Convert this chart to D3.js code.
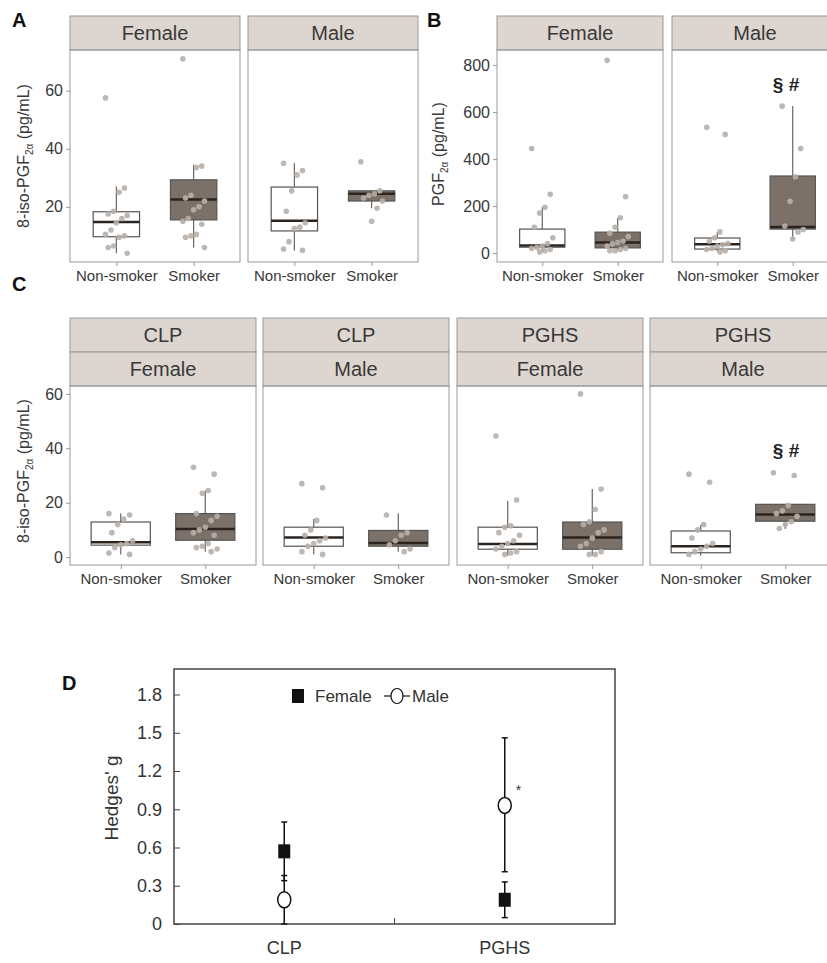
<!DOCTYPE html>
<html>
<head>
<meta charset="utf-8">
<script src="https://cdn.jsdelivr.net/npm/d3@7"></script>
<style>
  body { margin: 0; background: #fff; }
  svg { font-family: "Liberation Sans", Arial, sans-serif; }
</style>
</head>
<body>
<div class="chart"></div>
<script>
// categories
var groups = ["Non-smoker", "Smoker"];
var sexes = ["Female", "Male"];
var sites = ["CLP", "CLP", "PGHS", "PGHS"];
var cSexes = ["Female", "Male", "Female", "Male"];

// box stats: [lower whisker, q1, median, q3, upper whisker]
// order: facet1 non-smoker, facet1 smoker, facet2 non-smoker, ...
var aStats = [
  [4, 9.7, 14.8, 18.3, 27], [6, 15.5, 22.5, 29.3, 34.5],
  [5, 11.7, 15.2, 26.8, 35], [19.5, 22, 24.5, 25.5, 25.5]
];
var aPoints = [
  [57.5, 26.5, 25, 18.5, 17.5, 17, 16, 14.5, 12, 10.5, 10, 9.5, 6.5, 6, 4],
  [71, 34, 33.5, 24, 23, 22, 20, 19, 16, 15, 14, 10.5, 10, 9.5, 6],
  [35, 32.5, 31, 25.5, 18.5, 14.5, 13, 12.5, 8, 5.5, 5],
  [35.5, 25.5, 24.5, 24, 23, 22, 19.5, 15]
];
var aTicks = [20, 40, 60];

var bStats = [
  [5, 25, 32, 102, 196], [10, 22, 45, 89, 149],
  [8, 17, 38, 64, 90], [60, 102, 111, 328, 626]
];
var bPoints = [
  [445, 250, 195, 170, 110, 65, 40, 30, 25, 20, 15, 10, 5],
  [820, 240, 150, 110, 85, 70, 50, 45, 40, 30, 20, 15, 10, 10],
  [535, 505, 90, 65, 50, 40, 35, 30, 20, 15, 10, 5],
  [625, 445, 325, 220, 115, 100, 90, 60]
];
var bTicks = [0, 200, 400, 600, 800];

var cStats = [
  [1, 4.4, 5.5, 12.9, 16], [2, 6.2, 10.3, 16, 24.5],
  [1, 4, 7.2, 11, 14], [2, 4, 5.2, 9.8, 16],
  [0.5, 2.9, 4.8, 11, 20.6], [0.5, 2.9, 7.2, 12.9, 25],
  [0.5, 1.6, 4, 9.6, 11.8], [10.3, 13.2, 15.7, 19.4, 19.4]
];
var cPoints = [
  [16, 15.5, 14, 12, 9, 6, 5, 4.5, 3.5, 1.5, 1],
  [33, 30.5, 24.5, 23.5, 16, 15, 13.5, 11, 10, 9, 8, 5, 4, 3.5, 3, 2],
  [27, 25.5, 13.5, 10, 8, 7, 6, 5, 4, 2, 1],
  [15.5, 9, 8, 6, 4.5, 3, 2],
  [44.5, 21, 11.5, 11, 9, 8, 6, 5, 4, 3, 2, 1.5, 1],
  [60, 25, 17.5, 13, 12, 10, 9, 7, 5, 4, 2, 1, 1],
  [30.5, 27.5, 12, 10, 7, 5, 4, 3, 2, 1],
  [31, 30, 19, 17, 16, 15, 13, 12, 10.5]
];
var cTicks = [0, 20, 40, 60];

// panel D: Hedges' g
var dCats = ["CLP", "PGHS"];
var dFemale = [0.57, 0.19], dFemaleLo = [0.34, 0.05], dFemaleHi = [0.80, 0.33];
var dMale = [0.19, 0.93], dMaleLo = [0.0, 0.41], dMaleHi = [0.38, 1.46];
var dTicks = [0, 0.3, 0.6, 0.9, 1.2, 1.5, 1.8];

var svg = d3.select(".chart").append("svg")
    .attr("width", 827)
    .attr("height", 963);

var txt = "#383838", border = "#999", stripFill = "#ddd5d0", smokeFill = "#7b7169";

function letter(s, x, y) {
  svg.append("text").attr("x", x).attr("y", y).text(s)
    .attr("font-size", 20).attr("font-weight", "bold").attr("fill", "#111");
}

function ylabel(x, y, main) {
  var t = svg.append("text")
    .attr("transform", "translate(" + x + "," + y + ") rotate(-90)")
    .attr("text-anchor", "middle").attr("font-size", 16).attr("fill", txt);
  t.append("tspan").text(main);
  t.append("tspan").text("2α").attr("font-size", 10).attr("dy", 4);
  t.append("tspan").text(" (pg/mL)").attr("dy", -4);
}

// one faceted boxplot panel
function facet(opt) {
  var x = d3.scalePoint().domain(groups).range([opt.x0, opt.x1]).padding(0.6);
  var step = x.step();
  var bw = step * opt.boxW;
  var g = svg.append("g");
  var stripH = 34;

  opt.strips.forEach(function(s, i) {
    var top = opt.top - stripH * (opt.strips.length - i);
    g.append("rect").attr("x", opt.x0).attr("y", top)
      .attr("width", opt.x1 - opt.x0).attr("height", stripH)
      .attr("fill", stripFill).attr("stroke", border);
    g.append("text").attr("x", (opt.x0 + opt.x1) / 2).attr("y", top + stripH / 2 + 7)
      .attr("text-anchor", "middle").attr("font-size", 20).attr("fill", txt).text(s);
  });

  g.append("rect").attr("x", opt.x0).attr("y", opt.top)
    .attr("width", opt.x1 - opt.x0).attr("height", opt.bottom - opt.top)
    .attr("fill", "none").attr("stroke", border);

  var y = opt.y;
  groups.forEach(function(grp, j) {
    var st = opt.stats[j], cx = x(grp);
    var fill = grp == "Smoker" ? smokeFill : "#fff";
    g.append("line").attr("x1", cx).attr("x2", cx)
      .attr("y1", y(st[0])).attr("y2", y(st[4])).attr("stroke", "#666").attr("stroke-width", 1.2);
    g.append("rect").attr("x", cx - bw / 2).attr("y", y(st[3]))
      .attr("width", bw).attr("height", y(st[1]) - y(st[3]))
      .attr("fill", fill).attr("stroke", "#555").attr("stroke-width", 1.2);
    g.append("line").attr("x1", cx - bw / 2).attr("x2", cx + bw / 2)
      .attr("y1", y(st[2])).attr("y2", y(st[2])).attr("stroke", "#2a2420").attr("stroke-width", 2.5);
    g.selectAll(null).data(opt.points[j]).enter().append("circle")
      .attr("cx", function(d, i) { return cx + ((((i * 7) % 9) - 4) / 4) * step * 0.14; })
      .attr("cy", function(d) { return y(d); })
      .attr("r", 2.8).attr("fill", "#b8afa9").attr("opacity", 0.9);
  });

  var xa = g.append("g").attr("transform", "translate(0," + opt.bottom + ")")
    .call(d3.axisBottom(x).tickSize(4).tickPadding(4));
  xa.select(".domain").remove();
  xa.selectAll("line").attr("stroke", border);
  xa.selectAll("text").attr("font-size", 15).attr("fill", txt).attr("font-family", null);

  if (opt.yaxis) {
    var ya = g.append("g").attr("transform", "translate(" + opt.x0 + ",0)")
      .call(d3.axisLeft(y).tickValues(opt.ticks).tickSize(4).tickPadding(3));
    ya.select(".domain").remove();
    ya.selectAll("line").attr("stroke", border);
    ya.selectAll("text").attr("font-size", 16).attr("fill", txt).attr("font-family", null);
  }
}

// ---- A
letter("A", 12, 27);
var yA = d3.scaleLinear().domain([1, 74]).range([262, 50]);
[[70, 240], [248, 418]].forEach(function(r, i) {
  facet({x0: r[0], x1: r[1], top: 50, bottom: 262, strips: [sexes[i]], y: yA,
    stats: aStats.slice(i * 2, i * 2 + 2), points: aPoints.slice(i * 2, i * 2 + 2),
    boxW: 0.6, yaxis: i == 0, ticks: aTicks});
});
ylabel(29, 156, "8-iso-PGF");

// ---- B
letter("B", 427, 27);
var yB = d3.scaleLinear().domain([-38, 864]).range([262, 50]);
[[497, 663], [672, 838]].forEach(function(r, i) {
  facet({x0: r[0], x1: r[1], top: 50, bottom: 262, strips: [sexes[i]], y: yB,
    stats: bStats.slice(i * 2, i * 2 + 2), points: bPoints.slice(i * 2, i * 2 + 2),
    boxW: 0.6, yaxis: i == 0, ticks: bTicks});
});
ylabel(444, 154, "PGF");
svg.append("text").attr("x", 786).attr("y", 91).attr("text-anchor", "middle")
  .attr("font-size", 19).attr("font-weight", "bold").attr("fill", "#222").text("§ #");

// ---- C
letter("C", 12, 291);
var yC = d3.scaleLinear().domain([-2.9, 62.9]).range([565, 386]);
[[70, 256], [263, 449], [457, 643], [650, 836]].forEach(function(r, i) {
  facet({x0: r[0], x1: r[1], top: 386, bottom: 565, strips: [sites[i], cSexes[i]], y: yC,
    stats: cStats.slice(i * 2, i * 2 + 2), points: cPoints.slice(i * 2, i * 2 + 2),
    boxW: 0.7, yaxis: i == 0, ticks: cTicks});
});
ylabel(29, 471, "8-iso-PGF");
svg.append("text").attr("x", 786).attr("y", 457).attr("text-anchor", "middle")
  .attr("font-size", 19).attr("font-weight", "bold").attr("fill", "#222").text("§ #");

// ---- D
letter("D", 62, 690);
var xD = d3.scaleBand().domain(dCats).range([174, 615]);
var yD = d3.scaleLinear().domain([0, 2.0]).range([924, 669]);
var gd = svg.append("g");

gd.append("rect").attr("x", 174).attr("y", 669).attr("width", 441).attr("height", 255)
  .attr("fill", "none").attr("stroke", "#444").attr("stroke-width", 1.5);

var yaD = gd.append("g").attr("transform", "translate(174,0)")
  .call(d3.axisLeft(yD).tickValues(dTicks).tickSizeInner(-6).tickSizeOuter(0).tickPadding(12)
    .tickFormat(function(d) { return d == 0 ? "0" : d3.format(".1f")(d); }));
yaD.select(".domain").remove();
yaD.selectAll("line").attr("stroke", "#444");
yaD.selectAll("text").attr("font-size", 18).attr("fill", "#333").attr("font-family", null);

var xaD = gd.append("g").attr("transform", "translate(0,924)")
  .call(d3.axisBottom(xD).tickSize(0).tickPadding(17));
xaD.select(".domain").remove();
xaD.selectAll("text").attr("font-size", 18).attr("fill", "#333").attr("font-family", null);
gd.append("line").attr("x1", xD("PGHS")).attr("x2", xD("PGHS"))
  .attr("y1", 924).attr("y2", 918).attr("stroke", "#444");

gd.append("text").attr("transform", "translate(118,798) rotate(-90)")
  .attr("text-anchor", "middle").attr("font-size", 19).attr("fill", "#333").text("Hedges' g");

function errBar(cx, lo, hi) {
  gd.append("line").attr("x1", cx).attr("x2", cx).attr("y1", yD(lo)).attr("y2", yD(hi))
    .attr("stroke", "#111").attr("stroke-width", 1.5);
  [lo, hi].forEach(function(v) {
    gd.append("line").attr("x1", cx - 3).attr("x2", cx + 3).attr("y1", yD(v)).attr("y2", yD(v))
      .attr("stroke", "#111").attr("stroke-width", 1.5);
  });
}

dCats.forEach(function(c, i) {
  var cx = xD(c) + xD.bandwidth() / 2;
  errBar(cx, dFemaleLo[i], dFemaleHi[i]);
  errBar(cx, dMaleLo[i], dMaleHi[i]);
  gd.append("rect").attr("x", cx - 6).attr("y", yD(dFemale[i]) - 7)
    .attr("width", 12).attr("height", 14).attr("fill", "#111");
  gd.append("ellipse").attr("cx", cx).attr("cy", yD(dMale[i]))
    .attr("rx", 6.5).attr("ry", 8).attr("fill", "#fff").attr("stroke", "#111").attr("stroke-width", 1.5);
});
gd.append("text").attr("x", xD("PGHS") + xD.bandwidth() / 2 + 11).attr("y", yD(dMale[1]) - 10)
  .attr("font-size", 14).attr("fill", "#333").text("*");

// legend
gd.append("rect").attr("x", 292).attr("y", 689).attr("width", 12).attr("height", 14).attr("fill", "#111");
gd.append("text").attr("x", 315).attr("y", 702).attr("font-size", 17).attr("fill", "#333").text("Female");
gd.append("line").attr("x1", 384).attr("x2", 410).attr("y1", 696).attr("y2", 696).attr("stroke", "#111").attr("stroke-width", 1.2);
gd.append("ellipse").attr("cx", 397).attr("cy", 696).attr("rx", 6).attr("ry", 7.5)
  .attr("fill", "#fff").attr("stroke", "#111").attr("stroke-width", 1.2);
gd.append("text").attr("x", 412).attr("y", 702).attr("font-size", 17).attr("fill", "#333").text("Male");
</script>
</body>
</html>
